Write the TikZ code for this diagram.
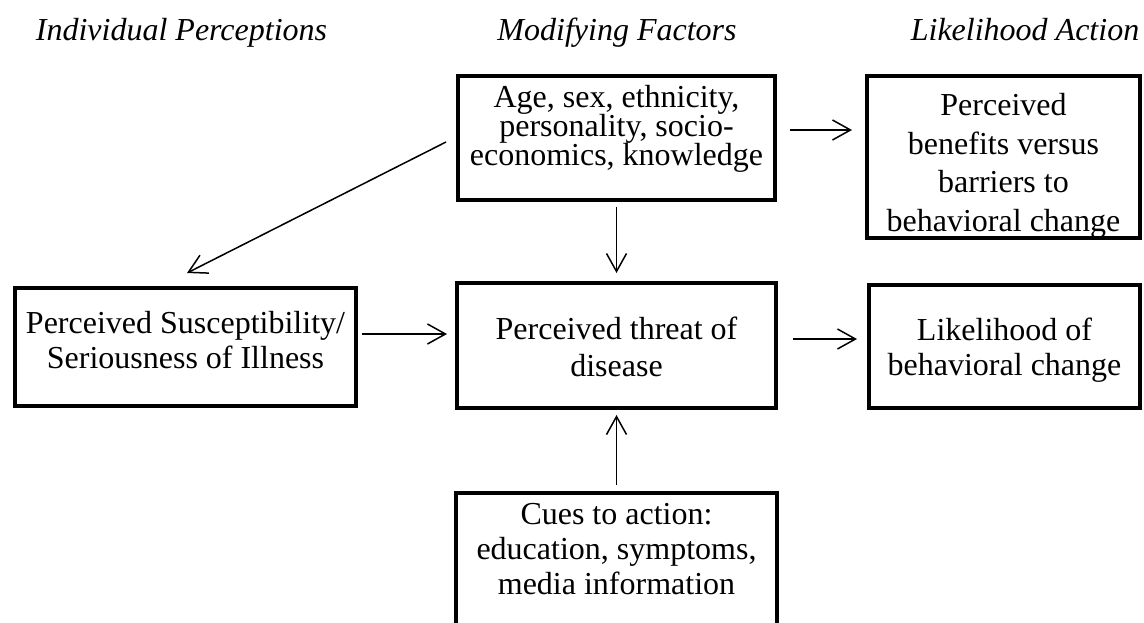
\documentclass[tikz,border=0pt]{standalone}
\usepackage{fontspec}
\setmainfont{Liberation Serif}
\usetikzlibrary{arrows.meta}
\lineskiplimit=-20pt\relax
\newcommand{\tstr}[1]{\rule{0pt}{#1}}
\newcommand{\bstr}[1]{\rule[-#1]{0pt}{#1}}

\begin{document}
\begin{tikzpicture}[x=0.5pt,y=-0.5pt,
  every node/.style={font=\fontsize{16}{17.5}\selectfont},
  box/.style={draw,line width=2pt,align=center,inner sep=0pt},
  head/.style={anchor=base,font=\fontsize{16}{17.5}\selectfont\itshape},
  arr/.style={-{Straight Barb[length=9pt,width=10pt]},line width=0.75pt}]
  \useasboundingbox (0,0) rectangle (1144,622);
  \clip (0,0) rectangle (1144,622);
  \node[head] (hind) at (181.5,40) {Individual Perceptions};
  \node[head] (hmod) at (617,40) {Modifying Factors};
  \node[head] (hlike) at (1025,40) {Likelihood Action};
  \node[box,minimum width=158.5pt,minimum height=62pt,font=\fontsize{16}{14.6}\selectfont] (age) at (616.5,138)
    {Age, sex, ethnicity,\\personality, socio-\\economics, knowledge\bstr{12.45pt}};
  \node[box,minimum width=136.5pt,minimum height=81pt,font=\fontsize{16}{19.2}\selectfont] (bene) at (1003.5,157)
    {\tstr{19.95pt}Perceived\\benefits versus\\barriers to\\behavioral change};
  \node[box,minimum width=170.5pt,minimum height=59pt] (susc) at (185.5,347)
    {Perceived Susceptibility/\\Seriousness of Illness\bstr{7.45pt}};
  \node[box,minimum width=159.5pt,minimum height=62.5pt,font=\fontsize{16}{18.15}\selectfont] (threat) at (616.5,345.5)
    {\tstr{12.55pt}Perceived threat of\\disease};
  \node[box,minimum width=135.5pt,minimum height=61.5pt] (likely) at (1004.5,346.5)
    {\tstr{15.4pt}Likelihood of\\behavioral change};
  \node[box,anchor=north,minimum width=160.5pt,minimum height=80pt] (cues) at (616.5,491)
    {Cues to action:\\education, symptoms,\\media information\bstr{24.25pt}};
  \draw[arr,shorten <=6.5pt,shorten >=6.5pt] ([yshift=4pt]age.east) -- ([yshift=4pt]age.east -| bene.west);
  \draw[arr] ([xshift=-5pt,yshift=-2pt]age.west) -- ([xshift=0.75pt,yshift=6.5pt]susc.north);
  \draw[arr,shorten <=2.5pt,shorten >=4pt] (age) -- (threat);
  \draw[arr,shorten <=2pt,shorten >=4pt] ([yshift=6.5pt]susc.east) -- ([yshift=6.5pt]susc.east -| threat.west);
  \draw[arr,shorten <=7.5pt,shorten >=5pt] ([yshift=3.25pt]threat.east) -- ([yshift=3.25pt]threat.east -| likely.west);
  \draw[arr,shorten <=3pt,shorten >=2.5pt] (cues) -- (threat);
\end{tikzpicture}
\end{document}
